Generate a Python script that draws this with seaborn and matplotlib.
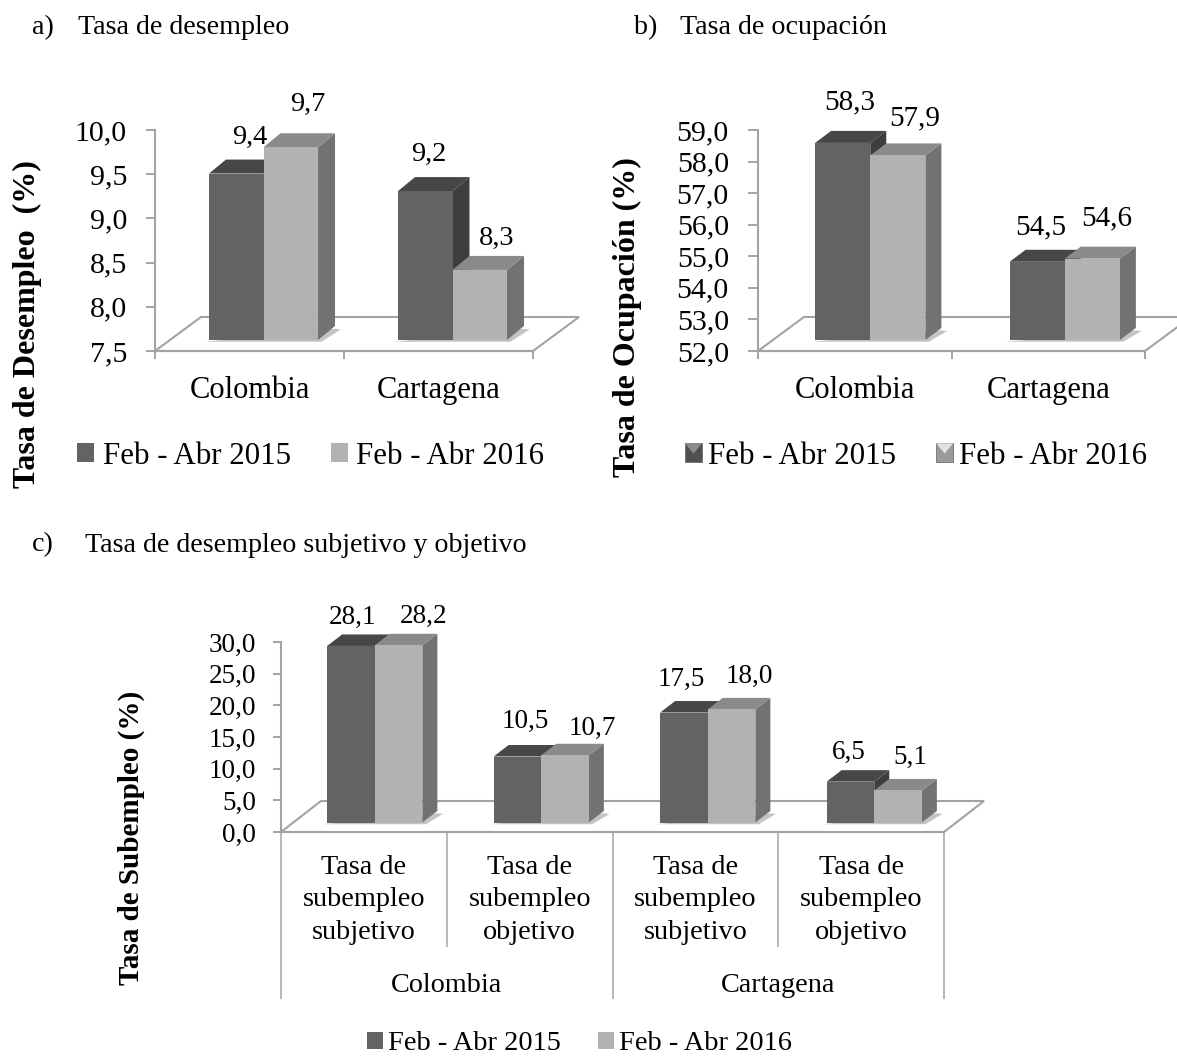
import matplotlib
matplotlib.use("Agg")
import matplotlib.pyplot as plt
from matplotlib.patches import Polygon, Rectangle
from matplotlib.legend_handler import HandlerPatch
import pandas as pd
import seaborn as sns

sns.set_style("white")
plt.rcParams["font.family"] = ["Liberation Serif", "DejaVu Serif"]

W, H = 1177, 1057
periods = ["Feb - Abr 2015", "Feb - Abr 2016"]
places = ["Colombia", "Cartagena"]

desempleo_2015 = [9.4, 9.2]
desempleo_2016 = [9.7, 8.3]
ocupacion_2015 = [58.3, 54.5]
ocupacion_2016 = [57.9, 54.6]
sub_groups = ["Tasa de\nsubempleo\nsubjetivo", "Tasa de\nsubempleo\nobjetivo",
              "Tasa de\nsubempleo\nsubjetivo ", "Tasa de\nsubempleo\nobjetivo "]
subempleo_2015 = [28.1, 10.5, 17.5, 6.5]
subempleo_2016 = [28.2, 10.7, 18.0, 5.1]

FRONT = ["#636363", "#b2b2b2"]
TOP = ["#474747", "#8a8a8a"]
SIDE = ["#3e3e3e", "#727272"]
AXC = "#a3a3a3"


class BevelHandler(HandlerPatch):
    """Square legend key with a lighter triangular bevel along its top edge."""

    def create_artists(self, legend, orig_handle, xdescent, ydescent, width, height, fontsize, trans):
        dark = orig_handle.get_facecolor() == matplotlib.colors.to_rgba(FRONT[0])
        base, glow = ("#505050", "#8c8c8c") if dark else ("#9a9a9a", "#e2e2e2")
        x0, y0 = -xdescent, -ydescent
        sq = Rectangle((x0, y0), width, height, fc=base, ec="#6e6e6e", lw=0.6, transform=trans)
        tri = Polygon([(x0, y0 + height), (x0 + width, y0 + height), (x0 + width / 2, y0 + height * .45)],
                      closed=True, fc=glow, ec="none", transform=trans)
        return [sq, tri]


def px_axes(fig, x0, y_bottom, x1, y_top, **kw):
    return fig.add_axes([x0 / W, 1 - y_bottom / H, (x1 - x0) / W, (y_bottom - y_top) / H], **kw)


def fmt(v):
    return f"{v:.1f}".replace(".", ",")


def panel(fig, cats, s15, s16, ylim, step, main, plane, depth, floor, width, nudges, tick_fs, label_fs, tick_len, tick_pad):
    x0, yb, x1, yt = main
    ax = px_axes(fig, *main)
    ax.set_xlim(0, len(cats))
    ax.set_ylim(*ylim)
    ax.patch.set_alpha(0)
    sns.despine(ax=ax, top=True, right=True)
    for s in ("left", "bottom"):
        ax.spines[s].set_color(AXC)
        ax.spines[s].set_linewidth(1.5)
    n = round((ylim[1] - ylim[0]) / step)
    ticks = [ylim[0] + i * step for i in range(n + 1)]
    ax.set_yticks(ticks, [fmt(t) for t in ticks])
    ax.tick_params(axis="y", length=tick_len, width=1.4, color=AXC, labelsize=tick_fs, pad=tick_pad,
                   left=True, labelcolor="black")

    # floor of the 3D box, from the axes' own frame
    fx, fy = floor
    sx = fx * len(cats) / (x1 - x0)
    sy = fy * (ylim[1] - ylim[0]) / (yb - yt)
    n_c = len(cats)
    ax.add_patch(Polygon([(0, ylim[0]), (n_c, ylim[0]), (n_c + sx, ylim[0] + sy), (sx, ylim[0] + sy)],
                         closed=True, fc="white", ec=AXC, lw=1.5, clip_on=False, zorder=1))

    # bars on a plane set back inside the box
    bar_ax = px_axes(fig, *plane)
    df = pd.DataFrame({
        "cat": list(cats) * 2,
        "val": list(s15) + list(s16),
        "period": [periods[0]] * len(cats) + [periods[1]] * len(cats),
    })
    sns.barplot(data=df, x="cat", y="val", hue="period", palette=FRONT, saturation=1,
                width=width, gap=0, ax=bar_ax, legend=True, linewidth=0)
    bar_ax.set_ylim(*ylim)
    bar_ax.axis("off")

    dx_px, dy_px = depth
    dx = dx_px * len(cats) / (plane[2] - plane[0])
    dy = dy_px * (ylim[1] - ylim[0]) / (plane[1] - plane[3])
    ex = 3.5 * len(cats) / (plane[2] - plane[0])
    ey = 3.5 * (ylim[1] - ylim[0]) / (plane[1] - plane[3])
    base = ylim[0]

    tagged = []
    for idx, c in enumerate(bar_ax.containers):
        for b in c:
            tagged.append((b.get_x(), idx, b))
    tagged.sort(key=lambda t: t[0])

    # soft contact shadow
    for i in range(0, len(tagged), 2):
        l = tagged[i][2].get_x()
        r = tagged[i + 1][2].get_x() + tagged[i + 1][2].get_width()
        bar_ax.add_patch(Polygon([(l - ex * 1.2, base - ey * .5), (r + ex, base - ey * .5),
                                  (r + dx + ex * 1.6, base + dy * .75), (r + dx, base + dy * .8)],
                                 closed=True, fc="#c4c4c4", ec="none", clip_on=False, zorder=0.5))

    for k, (xx, idx, b) in enumerate(tagged):
        l, r = b.get_x(), b.get_x() + b.get_width()
        top = b.get_height()
        z = 2 + k * 3
        bar_ax.add_patch(Polygon([(r, base), (r + dx, base + dy), (r + dx, top + dy), (r, top)],
                                 closed=True, fc=SIDE[idx], ec="none", clip_on=False, zorder=z))
        bar_ax.add_patch(Polygon([(l, top), (r, top), (r + dx, top + dy), (l + dx, top + dy)],
                                 closed=True, fc=TOP[idx], ec="none", clip_on=False, zorder=z + 1))
        b.set_zorder(z + 2)
        nx, ny = nudges[k]
        bar_ax.annotate(fmt(top), xy=((l + r) / 2, top), xytext=(nx, ny), textcoords="offset pixels",
                        ha="center", va="center", fontsize=label_fs, color="black",
                        annotation_clip=False, zorder=200)
    return ax, bar_ax


def place_legend(bar_ax, fig, x, y, fs, hl, tp, cs, handler_map=None):
    handles, labels = bar_ax.get_legend_handles_labels()
    bar_ax.legend(handles, labels, ncol=2, loc="center left", bbox_to_anchor=(x / W, 1 - y / H),
                  bbox_transform=fig.transFigure, frameon=False, fontsize=fs, handlelength=hl,
                  handleheight=hl, handletextpad=tp, columnspacing=cs, borderpad=0, borderaxespad=0,
                  labelcolor="black", handler_map=handler_map)


def label_px(fig, x, y, s, **kw):
    fig.text(x / W, 1 - y / H, s, **kw)


fig = plt.figure(figsize=(W / 100, H / 100), dpi=100, facecolor="white")

# a) ------------------------------------------------------------------
ax, bx = panel(fig, places, desempleo_2015, desempleo_2016, (7.5, 10.0), 0.5,
               main=(155, 351, 533, 130), plane=(169, 340, 547, 121), depth=(17, 14), floor=(46, 34),
               width=0.577,
               nudges=[(13.5, 36), (17, 43), (4, 37), (17, 32)], tick_fs=21.5, label_fs=20.5,
               tick_len=6.5, tick_pad=13.7)
ax.set_xticks([0, 1, 2], ["", "", ""])
ax.set_xticks([0.5, 1.5], places, minor=True)
ax.tick_params(axis="x", which="major", length=6, width=1.4, color=AXC, bottom=True)
ax.tick_params(axis="x", which="minor", length=0, labelsize=22, pad=18, labelcolor="black")
place_legend(bx, fig, 77, 456, 22.2, 0.55, 0.28, 1.3)
label_px(fig, 27, 324, "Tasa de Desempleo  (%)", rotation=90, ha="center", va="center",
         fontsize=23, fontweight="bold", color="black")

# b) ------------------------------------------------------------------
ax, bx = panel(fig, places, ocupacion_2015, ocupacion_2016, (52.0, 59.0), 1.0,
               main=(758, 351, 1145, 130), plane=(773, 340, 1162, 121), depth=(16, 12), floor=(46, 34),
               width=0.567,
               nudges=[(7.5, 41), (17, 37), (3.5, 34), (14, 40)], tick_fs=21.5, label_fs=21,
               tick_len=7, tick_pad=14)
ax.set_xticks([0, 1, 2], ["", "", ""])
ax.set_xticks([0.5, 1.5], places, minor=True)
ax.tick_params(axis="x", which="major", length=6, width=1.4, color=AXC, bottom=True)
ax.tick_params(axis="x", which="minor", length=0, labelsize=22, pad=18, labelcolor="black")
bevel = {bx.get_legend_handles_labels()[0][0]: BevelHandler(),
         bx.get_legend_handles_labels()[0][1]: BevelHandler()}
place_legend(bx, fig, 685, 456, 22.2, 0.55, 0.2, 1.3, handler_map=bevel)
label_px(fig, 627, 317, "Tasa de Ocupación (%)", rotation=90, ha="center", va="center",
         fontsize=23, fontweight="bold", color="black")

# c) ------------------------------------------------------------------
ax, bx = panel(fig, sub_groups, subempleo_2015, subempleo_2016, (0.0, 30.0), 5.0,
               main=(281, 832, 944, 642), plane=(291.5, 822.5, 957.5, 634), depth=(15, 11.5), floor=(40, 31),
               width=0.572,
               nudges=[(1.6, 29), (25.5, 29), (7.5, 34.7), (27.5, 27), (-3, 33), (18, 33), (-1.5, 29), (12, 33)],
               tick_fs=19.5, label_fs=19.5, tick_len=6, tick_pad=12)
ax.set_xticks([0, 2, 4], ["", "", ""])
ax.set_xticks([1, 3], ["", ""], minor=True)
ax.tick_params(axis="x", which="major", length=120, width=1.1, color=AXC, bottom=True)
ax.tick_params(axis="x", which="minor", length=83, width=1.1, color=AXC, bottom=True)
tr = ax.get_xaxis_transform()
for i, s in enumerate(sub_groups):
    ax.text(i + 0.5, -(900 - 832) / (832 - 642), s.strip(), transform=tr, ha="center", va="center",
            fontsize=20.3, linespacing=1.4, color="black")
for i, s in enumerate(places):
    ax.text(2 * i + 1, -(985 - 832) / (832 - 642), s, transform=tr, ha="center", va="center",
            fontsize=20.3, color="black")
place_legend(bx, fig, 367, 1044, 20.4, 0.55, 0.2, 1.3)
label_px(fig, 131, 838, "Tasa de Subempleo (%)", rotation=90, ha="center", va="center",
         fontsize=21, fontweight="bold", color="black")

# panel titles --------------------------------------------------------
TITLE = dict(fontsize=20.2, ha="left", va="center", color="black")
label_px(fig, 32, 28, "a)", **TITLE)
label_px(fig, 78, 28, "Tasa de desempleo", **TITLE)
label_px(fig, 634, 28, "b)", **TITLE)
label_px(fig, 680, 28, "Tasa de ocupación", **TITLE)
label_px(fig, 32, 545, "c)", **TITLE)
label_px(fig, 85, 545, "Tasa de desempleo subjetivo y objetivo", **TITLE)

fig.savefig("out.png", dpi=100, facecolor="white")
